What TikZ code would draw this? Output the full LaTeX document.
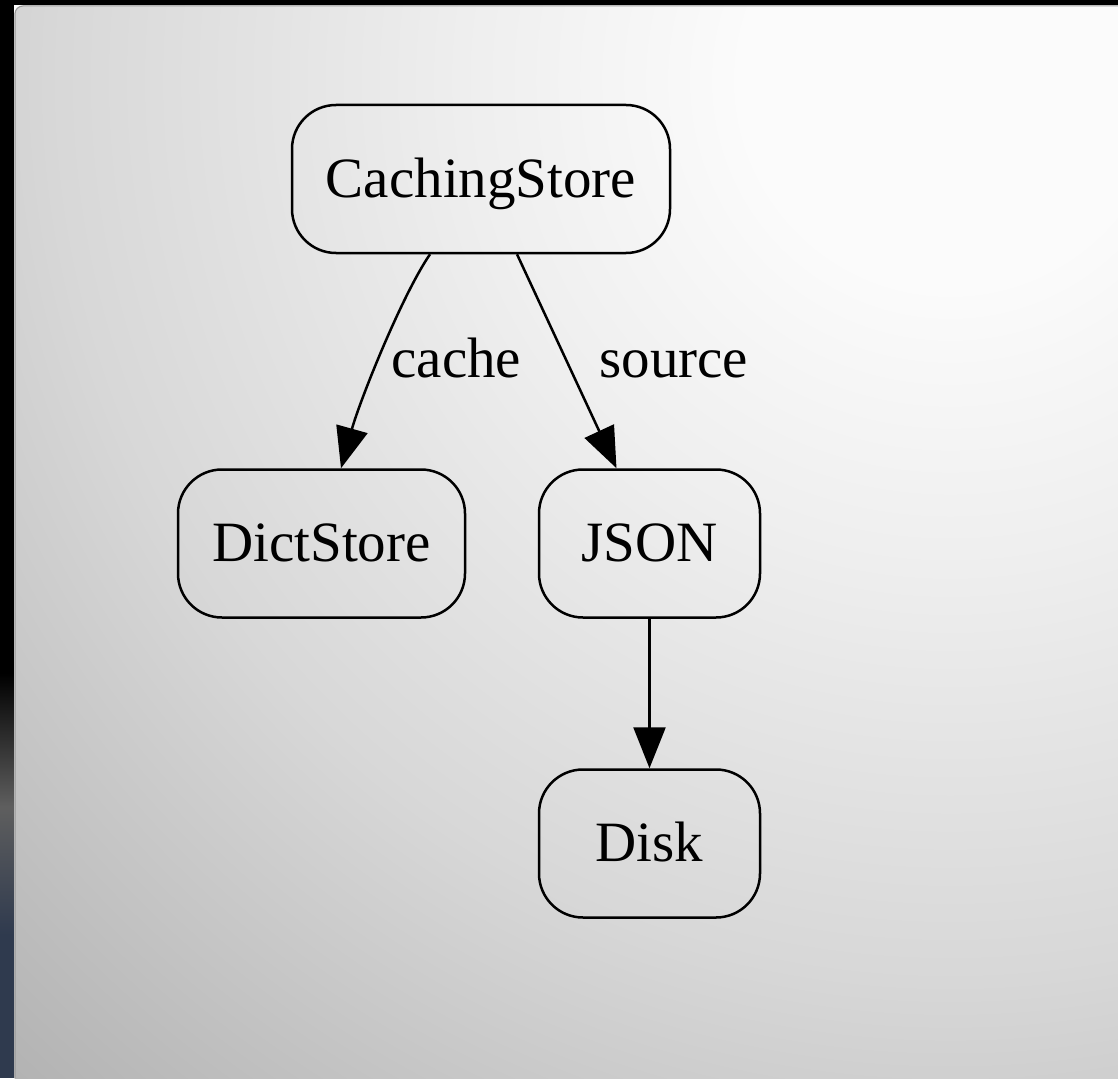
\documentclass[tikz,border=0pt]{standalone}
\usepackage{fontspec}
\setmainfont{Liberation Serif}
\usetikzlibrary{arrows.meta,calc}
\definecolor{bgA}{gray}{0.985}
\definecolor{bgB}{gray}{0.935}
\definecolor{bgC}{gray}{0.845}
\definecolor{bgD}{gray}{0.70}
\definecolor{bgE}{gray}{0.68}
\definecolor{stripmid}{gray}{0.37}
\definecolor{stripblue}{RGB}{47,58,78}
\pgfdeclareradialshading{bgshade}{\pgfpoint{0bp}{0bp}}{color(0bp)=(bgA); color(3.6bp)=(bgA); color(8.6bp)=(bgB); color(16bp)=(bgC); color(24.5bp)=(bgD); color(50bp)=(bgE)}
\tikzset{
  box/.style={draw=black, line width=2.5pt, rounded corners=44pt, inner sep=0pt,
    font=\fontsize{57}{68}\selectfont, text height=36pt, text depth=0pt, minimum height=148pt},
  lbl/.style={inner sep=0pt, anchor=base, font=\fontsize{57}{68}\selectfont},
  edge/.style={draw=black, line width=2.5pt, -{Triangle[length=41pt,width=32pt]}}
}
\begin{document}
\begin{tikzpicture}[x=1pt,y=-1pt]
\useasboundingbox (0,0) rectangle (1118,1078);
% dark frame
\fill[black] (0,0) rectangle (1118,5);
\fill[black] (0,0) rectangle (14,673);
\shade[top color=black, bottom color=stripmid] (0,673) rectangle (14,807);
\shade[top color=stripmid, bottom color=stripblue] (0,807) rectangle (14,935);
\fill[stripblue] (0,934) rectangle (14,1078);
% panel
\begin{scope}
  \clip[rounded corners=8pt] (14.5,5.5) -- (1130,5.5) -- (1130,1090) -- (14.5,1090) -- cycle;
  \shade[shading=bgshade] (-450pt,-1480pt) rectangle (2350pt,1320pt);
\end{scope}
\draw[gray!80, line width=1pt, rounded corners=8pt] (15,1078) -- (15,6) -- (1118,6);
% nodes
\node[box, minimum width=378pt] (cs) at (481,179) {CachingStore};
\node[box, minimum width=287pt] (dict) at (321.5,543.5) {DictStore};
\node[box, minimum width=221pt] (json) at (649.5,543.5) {JSON};
\node[box, minimum width=221pt] (disk) at (649.5,843.5) {Disk};
% edges
\draw[edge] ($(cs.south)+(-51,0)$) .. controls (402,295) and (360,400) .. ($(dict.north)+(19.5,0)$);
\draw[edge] ($(cs.south)+(36,0)$) -- ($(json.north)+(-33,0)$);
\draw[edge] (json.south) -- (disk.north);
% labels
\node[lbl] (lcache) at (456.4,377) {cache};
\node[lbl] (lsource) at (673.8,377) {source};
\end{tikzpicture}
\end{document}
